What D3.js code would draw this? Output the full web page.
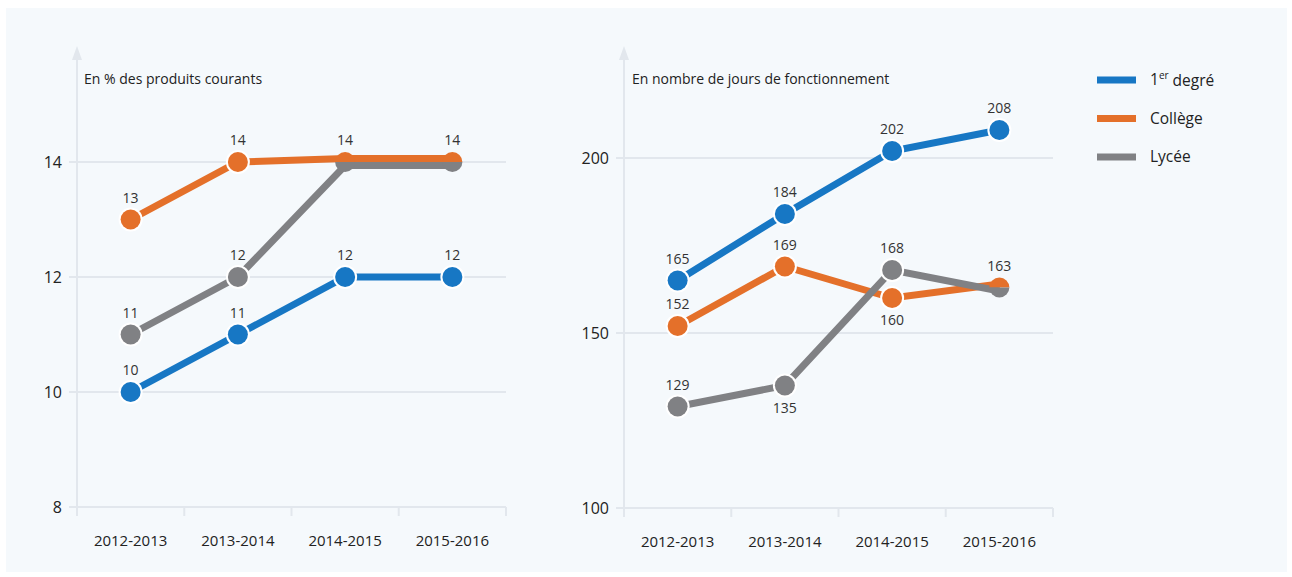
<!DOCTYPE html>
<html>
<head>
<meta charset="utf-8">
<script src="https://cdn.jsdelivr.net/npm/d3@7"></script>
<style>
  body { margin: 0; background: #fff; }
  svg { display: block; font-family: 'Open Sans', sans-serif; }
  .grid line { stroke: #e2e7ed; stroke-width: 2; }
</style>
</head>
<body>
<div id="chart"></div>
<script>
var categories = ['2012-2013', '2013-2014', '2014-2015', '2015-2016'];
var seriesNames = ['1er degré', 'Collège', 'Lycée'];
var colors = ['#1777c4', '#e4702a', '#808184'];

// part des produits courants (%)
var pctPremier = [10, 11, 12, 12];
var pctCollege = [13, 14, 14, 14];
var pctLycee = [11, 12, 14, 14];
var pctTicks = [8, 10, 12, 14];

// nombre de jours de fonctionnement
var joursPremier = [165, 184, 202, 208];
var joursCollege = [152, 169, 160, 163];
var joursLycee = [129, 135, 168, 163];
var joursTicks = [100, 150, 200];

var svgWidth = 1292;
var svgHeight = 577;

var svg = d3.select('#chart').append('svg')
  .attr('width', svgWidth)
  .attr('height', svgHeight);

svg.append('rect')
  .attr('x', 6)
  .attr('y', 8)
  .attr('width', 1281)
  .attr('height', 564)
  .attr('fill', '#f5f9fc');

function drawPanel(opts) {
  var g = svg.append('g')
    .attr('transform', 'translate(' + opts.left + ', 0)');

  var xScale = d3.scaleBand()
    .domain(categories)
    .range([0, opts.width]);
  var yScale = d3.scaleLinear()
    .domain(opts.domain)
    .range([opts.bottom, opts.topTick]);

  // grille
  g.append('g')
    .attr('class', 'grid')
    .selectAll('line')
    .data(opts.ticks)
    .enter().append('line')
    .attr('x1', -8)
    .attr('x2', opts.width)
    .attr('y1', yScale)
    .attr('y2', yScale);

  // axe vertical + fleche
  g.append('line')
    .attr('x1', 0).attr('x2', 0)
    .attr('y1', 58).attr('y2', opts.bottom + 9)
    .attr('stroke', '#e2e7ed')
    .attr('stroke-width', 2);
  g.append('path')
    .attr('d', 'M-5,60 L0,46 L5,60 Z')
    .attr('fill', '#e2e7ed');

  // petits traits entre categories
  g.append('g')
    .selectAll('line')
    .data(d3.range(categories.length + 1))
    .enter().append('line')
    .attr('x1', function (d) { return d * xScale.step(); })
    .attr('x2', function (d) { return d * xScale.step(); })
    .attr('y1', opts.bottom)
    .attr('y2', opts.bottom + 9)
    .attr('stroke', '#e2e7ed')
    .attr('stroke-width', 2);

  g.append('g')
    .selectAll('text')
    .data(opts.ticks)
    .enter().append('text')
    .attr('x', -15)
    .attr('y', yScale)
    .attr('dy', '0.36em')
    .attr('text-anchor', 'end')
    .attr('font-size', 16)
    .attr('fill', '#222')
    .text(function (d) { return d; });

  g.append('g')
    .selectAll('text')
    .data(categories)
    .enter().append('text')
    .attr('x', function (d) { return xScale(d) + xScale.bandwidth() / 2; })
    .attr('y', opts.bottom + 39)
    .attr('text-anchor', 'middle')
    .attr('font-size', 15)
    .attr('fill', '#222')
    .text(function (d) { return d; });

  g.append('text')
    .attr('x', opts.titleX)
    .attr('y', opts.titleY)
    .attr('font-size', 14)
    .attr('fill', '#222')
    .text(opts.title);

  // decalage quand deux series ont la meme valeur
  var shift = opts.values.map(function () { return [0, 0, 0, 0]; });
  opts.values.forEach(function (vals, s) {
    opts.values.forEach(function (other, t) {
      if (t === s) return;
      vals.forEach(function (v, i) {
        if (v === other[i]) shift[s][i] = s < t ? -3.5 : 3.5;
      });
    });
  });

  var cx = function (i) { return xScale(categories[i]) + xScale.bandwidth() / 2; };

  opts.values.forEach(function (vals, s) {
    var line = d3.line()
      .x(function (d, i) { return cx(i); })
      .y(function (d, i) { return yScale(d) + shift[s][i]; });
    g.append('path')
      .datum(vals)
      .attr('d', line)
      .attr('fill', 'none')
      .attr('stroke', colors[s])
      .attr('stroke-width', 7);
  });

  var arc = d3.arc().innerRadius(0).outerRadius(10);

  opts.values.forEach(function (vals, s) {
    var pts = g.append('g')
      .selectAll('g')
      .data(vals)
      .enter().append('g')
      .attr('transform', function (d, i) {
        return 'translate(' + cx(i) + ',' + yScale(d) + ')';
      });
    pts.filter(function (d, i) { return shift[s][i] === 0; })
      .append('circle')
      .attr('r', 12)
      .attr('fill', '#fff');
    pts.append('path')
      .attr('d', function (d, i) {
        if (shift[s][i] < 0) return arc({ startAngle: -Math.PI / 2, endAngle: Math.PI / 2 });
        if (shift[s][i] > 0) return arc({ startAngle: Math.PI / 2, endAngle: Math.PI * 1.5 });
        return arc({ startAngle: 0, endAngle: Math.PI * 2 });
      })
      .attr('fill', colors[s]);
  });

  // etiquettes de valeur
  opts.values.forEach(function (vals, s) {
    vals.forEach(function (v, i) {
      var side = opts.labelSide[s][i];
      if (!side) return;
      g.append('text')
        .attr('x', cx(i))
        .attr('y', yScale(v) + (side === 'a' ? -17 : 27))
        .attr('text-anchor', 'middle')
        .attr('font-size', 14)
        .attr('fill', '#333')
        .text(v);
    });
  });
}

drawPanel({
  left: 77, width: 429, bottom: 507, topTick: 162,
  domain: [8, 14], ticks: pctTicks,
  title: 'En % des produits courants', titleX: 7, titleY: 84,
  values: [pctPremier, pctCollege, pctLycee],
  labelSide: [['a', 'a', 'a', 'a'], ['a', 'a', 'a', 'a'], ['a', 'a', '', '']]
});

drawPanel({
  left: 624, width: 429, bottom: 508, topTick: 158,
  domain: [100, 200], ticks: joursTicks,
  title: 'En nombre de jours de fonctionnement', titleX: 8, titleY: 84,
  values: [joursPremier, joursCollege, joursLycee],
  labelSide: [['a', 'a', 'a', 'a'], ['a', 'a', 'b', 'a'], ['a', 'b', 'a', '']]
});

// legende
var legend = svg.append('g')
  .attr('transform', 'translate(1097, 80)');
var items = legend.selectAll('g')
  .data(seriesNames)
  .enter().append('g')
  .attr('transform', function (d, i) { return 'translate(0,' + (i * 38.5) + ')'; });
items.append('line')
  .attr('x1', 0).attr('x2', 39)
  .attr('stroke', function (d, i) { return colors[i]; })
  .attr('stroke-width', 7);
var labels = items.append('text')
  .attr('x', 53)
  .attr('dy', '0.35em')
  .attr('font-size', 15.5)
  .attr('fill', '#222');
labels.each(function (d) {
  var t = d3.select(this);
  if (d.indexOf('1er') === 0) {
    t.append('tspan').text('1');
    t.append('tspan').attr('font-size', 10).attr('dy', '-0.6em').text('er');
    t.append('tspan').attr('dy', '0.4em').text(d.slice(3));
  } else {
    t.text(d);
  }
});
</script>
</body>
</html>
